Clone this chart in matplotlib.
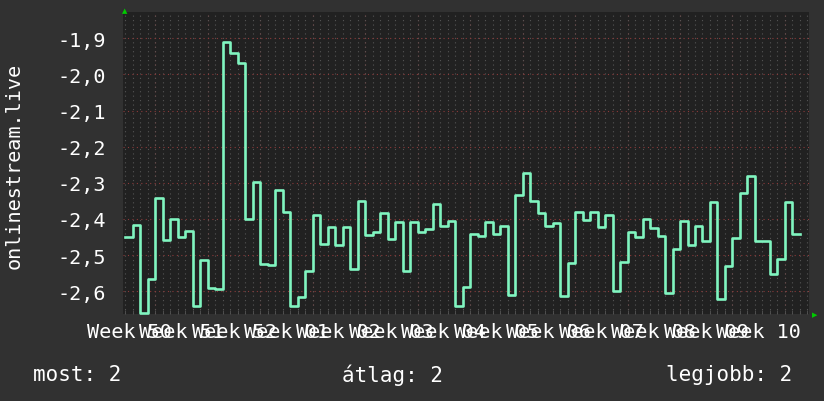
import numpy as np
import matplotlib
matplotlib.use("Agg")
import matplotlib.pyplot as plt

# daily values (one per day, oldest first)
values = [
    -2.449, -2.417, -2.660, -2.566, -2.342, -2.458, -2.399, -2.449, -2.432, -2.640,
    -2.513, -2.590, -2.594, -1.909, -1.942, -1.969, -2.400, -2.297, -2.525, -2.527,
    -2.319, -2.380, -2.640, -2.617, -2.543, -2.389, -2.469, -2.422, -2.472, -2.422,
    -2.538, -2.350, -2.444, -2.435, -2.384, -2.455, -2.409, -2.544, -2.407, -2.435,
    -2.427, -2.359, -2.419, -2.405, -2.640, -2.587, -2.441, -2.446, -2.409, -2.441,
    -2.419, -2.610, -2.333, -2.273, -2.350, -2.384, -2.419, -2.410, -2.612, -2.522,
    -2.380, -2.403, -2.380, -2.421, -2.388, -2.599, -2.519, -2.435, -2.449, -2.399,
    -2.424, -2.446, -2.605, -2.484, -2.405, -2.472, -2.419, -2.460, -2.352, -2.621,
    -2.529, -2.452, -2.327, -2.280, -2.460, -2.460, -2.552, -2.512, -2.352, -2.441,
]
week_labels = ["Week 50", "Week 51", "Week 52", "Week 01", "Week 02", "Week 03", "Week 04",
               "Week 05", "Week 06", "Week 07", "Week 08", "Week 09", "Week 10"]
week_start_days = [4, 11, 18, 25, 32, 39, 46, 53, 60, 67, 74, 81, 88]
y_ticks = [-2.6, -2.5, -2.4, -2.3, -2.2, -2.1, -2.0, -1.9]
legend_items = ["most: 2", "átlag: 2", "legjobb: 2"]

BG = "#313131"
PLOT_BG = "#212121"
LINE = "#80f5c0"
MAJOR = "#8c3a3a"
MINOR = "#555555"
FONT = "DejaVu Sans Mono"

W, H = 824, 402
fig = plt.figure(figsize=(W / 100, H / 100), dpi=100, facecolor=BG)
ax = fig.add_axes([123 / W, 1 - 315 / H, (808.5 - 123) / W, (315 - 13.3) / H])
ax.set_facecolor(PLOT_BG)
for s in ax.spines.values():
    s.set_visible(False)

days = np.arange(len(values) + 1)
ax.step(days, values + [values[-1]], where="post", color=LINE, lw=1.9, clip_on=False, zorder=3)

ax.set_xlim(-0.3, 91.14)
ax.set_ylim(-2.663, -1.828)

# grid: daily minor gray, weekly red, horizontal red
ax.set_xticks(np.arange(0, 92), minor=True)
ax.grid(which="minor", axis="x", color=MINOR, lw=0.8, ls=(0, (1, 3)))
for d in week_start_days:
    ax.axvline(d, color=MAJOR, lw=0.8, ls=(0, (1, 3)), zorder=1)
ax.set_yticks(y_ticks, [f"{v:.1f}".replace(".", ",") for v in y_ticks])
ax.grid(which="major", axis="y", color=MAJOR, lw=0.8, ls=(0, (1, 3)))

label_pos = [d - 3.5 for d in week_start_days]
ax.set_xticks(label_pos, week_labels)
ax.tick_params(axis="x", which="major", length=0, pad=6, colors="white", labelsize=14.5)
ax.tick_params(axis="x", which="minor", direction="in", length=3, color=MINOR)
ax.tick_params(axis="y", length=0, pad=12, colors="white", labelsize=14.5)
for lab in ax.get_xticklabels() + ax.get_yticklabels():
    lab.set_fontfamily(FONT)

# green axis arrows
fig.text(125 / W, 1 - 11 / H, "▲", color="#00cc00", fontsize=5, ha="center", va="center")
fig.text(815 / W, 1 - 315 / H, "▶", color="#00cc00", fontsize=5, ha="center", va="center")

fig.text(14 / W, 1 - 166 / H, "onlinestream.live", rotation=90, color="white",
         fontsize=14.5, family=FONT, ha="center", va="center")

fig.text(33 / W, 1 - 375 / H, legend_items[0], color="white", fontsize=15, family=FONT, ha="left", va="center")
fig.text(392 / W, 1 - 375 / H, legend_items[1], color="white", fontsize=15, family=FONT, ha="center", va="center")
fig.text(792 / W, 1 - 375 / H, legend_items[2], color="white", fontsize=15, family=FONT, ha="right", va="center")

fig.savefig("out.png", dpi=100, facecolor=BG)
